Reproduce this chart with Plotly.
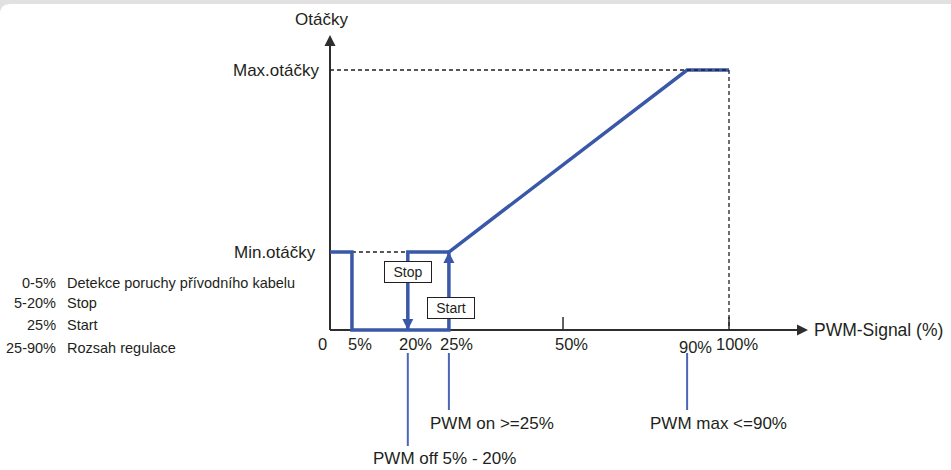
import numpy as np
import plotly.graph_objects as go

# ---- fan speed vs. PWM control signal ----------------------------------
# speed in % of maximum speed, control signal in % duty cycle
RPM_MIN = 30
RPM_MAX = 100

curve_pwm = [0, 5, 5, 25, 25, 90, 100]
curve_rpm = [30, 30, 0, 0, 30, 100, 100]

# hysteresis loop between switching off (20 %) and switching on (25 %)
loop_pwm = [20, 20, 25]
loop_rpm = [0, 30, 30]

tick_pwm = [0, 5, 20, 25, 50, 90, 100]
tick_labels = ["0", "5%", "20%", "25%", "50%", "90%", "100%"]

legend_ranges = ["0-5%", "5-20%", "25%", "25-90%"]
legend_texts = ["Detekce poruchy přívodního kabelu", "Stop", "Start", "Rozsah regulace"]

callout_pwm = [20, 25, 90]
callout_texts = ["PWM off 5% - 20%", "PWM on >=25%", "PWM max <=90%"]

# ---- look ----------------------------------------------------------------
W, H = 951, 470
FONT = "Liberation Sans, Arial, sans-serif"
INK = "#231f20"
AXIS = "#2e2e2e"
BLUE = "#3a58a8"
BLUE_THIN = "#4a66b6"

# the signal axis of this schematic is not to scale: breakpoints of the drawing scale
AXIS_PCT = [0, 5, 20, 25, 50, 90, 100]
AXIS_POS = [0, 5.5, 19.5, 29.8, 58.4, 89.5, 100]


def pos(p):
    return float(np.interp(p, AXIS_PCT, AXIS_POS))


# where the origin and the 100 % marks sit on the page
X0_PX, X100_PX = 330, 729
Y0_PX, YMAX_PX = 330, 70
ux = (X100_PX - X0_PX) / 100.0
uy = (Y0_PX - YMAX_PX) / float(RPM_MAX)
x_range = [-X0_PX / ux, (W - X0_PX) / ux]
y_range = [-(H - Y0_PX) / uy, Y0_PX / uy]


def px_x(px):
    return px / W


def px_y(py):
    return 1 - py / H


def font(size, color=INK):
    return dict(family=FONT, size=size, color=color)


def note(text, x, y, xref, yref, size, xanchor="center", **kw):
    return dict(text=text, x=x, y=y, xref=xref, yref=yref,
                xanchor=xanchor, yanchor="middle", showarrow=False,
                font=font(size), **kw)


fig = go.Figure()

# speed curve
fig.add_trace(go.Scatter(
    x=[pos(p) for p in curve_pwm], y=curve_rpm, mode="lines",
    line=dict(color=BLUE, width=3.5), hoverinfo="skip"))
fig.add_trace(go.Scatter(
    x=[pos(p) for p in loop_pwm], y=loop_rpm, mode="lines",
    line=dict(color=BLUE, width=3.5), hoverinfo="skip"))

# stop (down) and start (up) arrow heads
fig.add_trace(go.Scatter(
    x=[pos(loop_pwm[0])], y=[loop_rpm[0]], mode="markers",
    marker=dict(symbol="arrow-down", size=11, color=BLUE), hoverinfo="skip"))
fig.add_trace(go.Scatter(
    x=[pos(loop_pwm[-1])], y=[loop_rpm[-1]], mode="markers",
    marker=dict(symbol="arrow-up", size=11, color=BLUE), hoverinfo="skip"))

# axis arrow heads
y_tip = (Y0_PX - 35) / uy
x_tip = (808 - X0_PX) / ux
fig.add_trace(go.Scatter(
    x=[0], y=[y_tip], mode="markers",
    marker=dict(symbol="arrow-up", size=11, color=AXIS), hoverinfo="skip"))
fig.add_trace(go.Scatter(
    x=[x_tip], y=[0], mode="markers",
    marker=dict(symbol="arrow-right", size=11, color=AXIS), hoverinfo="skip"))

shapes = []
# white card on the grey page
shapes.append(dict(
    type="path", xref="paper", yref="paper", layer="below",
    path=f"M 0,{px_y(14)} Q 0,{px_y(4)} {px_x(10)},{px_y(4)} L 1,{px_y(4)} L 1,0 L 0,0 Z",
    fillcolor="white", line=dict(width=0)))
# axes
shapes.append(dict(type="line", xref="x", yref="y", layer="below",
                   x0=0, x1=0, y0=0, y1=y_tip - 10 / uy,
                   line=dict(color=AXIS, width=2)))
shapes.append(dict(type="line", xref="x", yref="y", layer="below",
                   x0=0, x1=x_tip - 10 / ux, y0=0, y1=0,
                   line=dict(color=AXIS, width=2)))
# small ticks at 50 % and 100 %
for p in (50, 100):
    shapes.append(dict(type="line", xref="x", yref="y", layer="below",
                       x0=pos(p), x1=pos(p), y0=0, y1=13 / uy,
                       line=dict(color=AXIS, width=1.5)))
# dashed guides
DASH = dict(color=INK, width=1.3, dash="4px,3px")
shapes.append(dict(type="line", xref="x", yref="y", layer="below",
                   x0=pos(5), x1=pos(20), y0=RPM_MIN, y1=RPM_MIN, line=DASH))
shapes.append(dict(type="line", xref="x", yref="y",
                   x0=0, x1=pos(100), y0=RPM_MAX, y1=RPM_MAX, line=DASH))
shapes.append(dict(type="line", xref="x", yref="y",
                   x0=pos(100), x1=pos(100), y0=RPM_MAX, y1=0, line=DASH))
# callout leaders below the signal axis
for p, bottom in zip(callout_pwm, [446, 410, 410]):
    shapes.append(dict(type="line", xref="x", yref="y",
                       x0=pos(p), x1=pos(p),
                       y0=-(353 - Y0_PX) / uy, y1=-(bottom - Y0_PX) / uy,
                       line=dict(color=BLUE_THIN, width=2)))

ann = []
# axis titles and speed levels
ann.append(note("Otáčky", px_x(321), px_y(19), "paper", "paper", 17))
ann.append(note("Max.otáčky", px_x(321), RPM_MAX, "paper", "y", 17, xanchor="right"))
ann.append(note("Min.otáčky", px_x(318), RPM_MIN, "paper", "y", 17, xanchor="right"))
ann.append(note("PWM-Signal (%)", px_x(812), 0, "paper", "y", 17.5, xanchor="left"))

# signal tick labels
for p, lab in zip(tick_pwm, tick_labels):
    shift = -8 if p == 0 else 8
    ypx = 347 if p == 90 else 344
    ann.append(note(lab, pos(p), px_y(ypx), "x", "paper", 16.5, xshift=shift))

# stop / start boxes
ann.append(note("Stop", pos(20), 0.75 * RPM_MIN, "x", "y", 14, bgcolor="white",
                bordercolor=INK, borderwidth=1, borderpad=1, width=44, height=18))
ann.append(note("Start", pos(25), 0.28 * RPM_MIN, "x", "y", 14, xshift=2, bgcolor="white",
                bordercolor=INK, borderwidth=1, borderpad=1, width=44, height=18))

# callout texts
for p, txt, shift, ypx in zip(callout_pwm, callout_texts, [37, 43, 31], [458, 423, 423]):
    ann.append(note(txt, pos(p), px_y(ypx), "x", "paper", 17, xshift=shift))

# side legend
for rng, txt, ypx in zip(legend_ranges, legend_texts, [283, 303, 325, 348]):
    ann.append(note(rng, px_x(58), px_y(ypx), "paper", "paper", 14.5, xanchor="right"))
    ann.append(note(txt, px_x(65), px_y(ypx), "paper", "paper", 14.5, xanchor="left"))

fig.update_layout(
    width=W, height=H, autosize=False,
    margin=dict(l=0, r=0, t=0, b=0, pad=0),
    paper_bgcolor="#e1e1e1", plot_bgcolor="rgba(0,0,0,0)",
    showlegend=False,
    xaxis=dict(visible=False, range=x_range, fixedrange=True),
    yaxis=dict(visible=False, range=y_range, fixedrange=True),
    shapes=shapes, annotations=ann,
)

fig.write_html("out.html", config={"displayModeBar": False})
